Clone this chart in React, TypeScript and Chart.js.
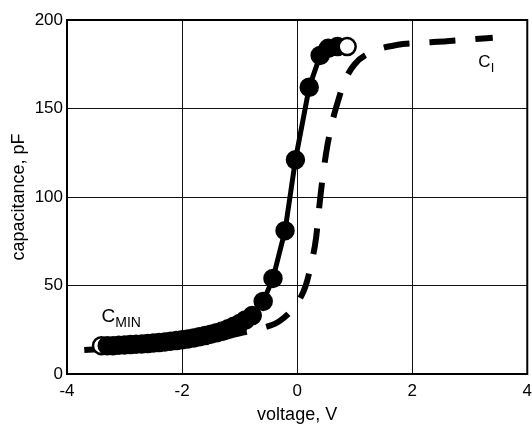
import React, { useEffect, useRef } from "react";
import { Chart, registerables } from "chart.js";

Chart.register(...registerables);

// Measured curve (filled circles, solid line)
const measuredV = [
  -3.4, -3.3, -3.2, -3.1, -3.0, -2.9, -2.8, -2.7, -2.6, -2.5, -2.4, -2.3, -2.2,
  -2.1, -2.0, -1.9, -1.8, -1.7, -1.6, -1.5, -1.4, -1.3, -1.2, -1.1, -1.0, -0.9,
  -0.78, -0.59, -0.42, -0.21, -0.03, 0.21, 0.4, 0.54, 0.7, 0.87,
];
const measuredC = [
  16, 16, 16, 16.2, 16.4, 16.6, 16.8, 17, 17.2, 17.5, 17.8, 18.1, 18.5, 18.9,
  19.3, 19.8, 20.3, 21, 21.7, 22.5, 23.3, 24.3, 25.5, 27, 28.5, 30.5, 33, 41,
  54, 81, 121, 162, 180, 184, 185, 185,
];

// Ideal curve C_I (dashed)
const idealV = [
  -3.7, -3.0, -2.0, -1.5, -1.0, -0.6, -0.3, 0.0, 0.15, 0.25, 0.33, 0.37, 0.41,
  0.46, 0.52, 0.6, 0.7, 0.82, 1.0, 1.3, 1.75, 2.1, 2.6, 3.0, 3.4,
];
const idealC = [
  13.5, 15, 17, 19, 23, 26, 30, 40, 50, 63, 77, 90, 102, 115, 128, 141, 153,
  165, 175, 182, 186, 187, 188, 189, 190,
];

const xTicks = [-4, -2, 0, 2, 4];
const yTicks = [0, 50, 100, 150, 200];
const xTitle = "voltage, V";
const yTitle = "capacitance, pF";

const FONT = "'Liberation Sans', Arial, Helvetica, sans-serif";

const overlayPlugin = {
  id: "overlay",
  afterDatasetsDraw(chart: any) {
    const { ctx, chartArea, scales } = chart;
    ctx.save();
    ctx.strokeStyle = "#000";
    ctx.lineWidth = 2;
    ctx.strokeRect(
      chartArea.left,
      chartArea.top,
      chartArea.right - chartArea.left,
      chartArea.bottom - chartArea.top
    );
    ctx.fillStyle = "#000";
    ctx.textBaseline = "alphabetic";
    ctx.textAlign = "left";
    // C_MIN label
    const x1 = scales.x.getPixelForValue(-3.4);
    const y1 = scales.y.getPixelForValue(29.5);
    ctx.font = `19px ${FONT}`;
    ctx.fillText("C", x1, y1);
    const w1 = ctx.measureText("C").width;
    ctx.font = `14px ${FONT}`;
    ctx.fillText("MIN", x1 + w1, y1 + 5);
    // C_I label
    const x2 = scales.x.getPixelForValue(3.15);
    const y2 = scales.y.getPixelForValue(173.5);
    ctx.font = `17px ${FONT}`;
    ctx.fillText("C", x2, y2);
    const w2 = ctx.measureText("C").width;
    ctx.font = `13px ${FONT}`;
    ctx.fillText("I", x2 + w2, y2 + 5);
    ctx.restore();
  },
};

export default function App() {
  const canvasRef = useRef<HTMLCanvasElement | null>(null);

  useEffect(() => {
    if (!canvasRef.current) return;
    const measured = measuredV.map((v, i) => ({ x: v, y: measuredC[i] }));
    const ideal = idealV.map((v, i) => ({ x: v, y: idealC[i] }));
    const n = measured.length;
    const pointFill = measured.map((_, i) => (i === 0 || i === n - 1 ? "#fff" : "#000"));

    const chart = new Chart(canvasRef.current, {
      type: "line",
      data: {
        datasets: [
          {
            label: "C",
            data: measured,
            borderColor: "#000",
            borderWidth: 5,
            pointRadius: 8.5,
            pointBackgroundColor: pointFill,
            pointBorderColor: "#000",
            pointBorderWidth: 2.5,
            tension: 0,
            order: 1,
          },
          {
            label: "C_I",
            data: ideal,
            borderColor: "#000",
            borderWidth: 6,
            borderDash: [26, 20],
            borderCapStyle: "butt",
            pointRadius: 0,
            cubicInterpolationMode: "monotone",
            order: 2,
          },
        ],
      },
      options: {
        animation: false,
        responsive: true,
        maintainAspectRatio: false,
        layout: {
          autoPadding: false,
          padding: { top: 20, right: 0, left: 0, bottom: 0 },
        },
        plugins: {
          legend: { display: false },
          tooltip: { enabled: false },
        },
        scales: {
          x: {
            type: "linear",
            min: -4,
            max: 4,
            afterBuildTicks: (s: any) => {
              s.ticks = xTicks.map((v) => ({ value: v }));
            },
            afterFit: (s: any) => {
              s.height = 55;
            },
            grid: {
              color: "#111",
              lineWidth: 1,
              drawTicks: true,
              tickLength: 7,
              tickColor: "rgba(0,0,0,0)",
            },
            border: { display: false },
            ticks: {
              color: "#000",
              padding: 0,
              font: { family: FONT, size: 17 },
            },
            title: {
              display: true,
              text: xTitle,
              color: "#000",
              font: { family: FONT, size: 18 },
              padding: { top: 0, bottom: 3 },
            },
          },
          y: {
            type: "linear",
            min: 0,
            max: 200,
            afterBuildTicks: (s: any) => {
              s.ticks = yTicks.map((v) => ({ value: v }));
            },
            afterFit: (s: any) => {
              s.width = 67;
            },
            grid: { color: "#111", lineWidth: 1, drawTicks: false },
            border: { display: false },
            ticks: {
              color: "#000",
              padding: 4,
              font: { family: FONT, size: 17 },
            },
            title: {
              display: true,
              text: yTitle,
              color: "#000",
              font: { family: FONT, size: 18 },
              padding: { top: 8, bottom: 0 },
            },
          },
        },
      },
      plugins: [overlayPlugin],
    });
    return () => chart.destroy();
  }, []);

  return (
    <div
      style={{
        position: "fixed",
        left: 0,
        top: 0,
        width: 532,
        height: 429,
        background: "#fff",
      }}
    >
      <canvas ref={canvasRef} />
    </div>
  );
}
